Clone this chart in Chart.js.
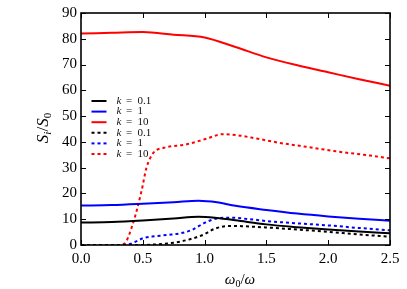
<!DOCTYPE html>
<html>
<head>
<meta charset="utf-8">
<script src="https://cdn.jsdelivr.net/npm/chart.js@4/dist/chart.umd.min.js"></script>
<style>
html,body{margin:0;padding:0;background:#fff;}
#wrap{width:407px;height:289px;}
</style>
</head>
<body>
<div id="wrap"><canvas id="c" width="407" height="289"></canvas></div>
<script>
// ---- data ----
const xTickLabels = ['0.0','0.5','1.0','1.5','2.0','2.5'];
const yTickLabels = ['0','10','20','30','40','50','60','70','80','90'];

const seriesLabels = ['k = 0.1','k = 1','k = 10','k = 0.1','k = 1','k = 10'];

const redSolidX = [0, 0.25, 0.5, 0.75, 1.0, 1.25, 1.5, 1.75, 2.0, 2.25, 2.5];
const redSolidY = [82, 82.3, 82.6, 81.6, 80.5, 76.8, 72.8, 69.7, 67, 64.3, 61.8];

const blueSolidX = [0, 0.25, 0.5, 0.75, 0.95, 1.1, 1.25, 1.5, 1.75, 2.0, 2.25, 2.5];
const blueSolidY = [15.3, 15.5, 16.0, 16.6, 17.2, 16.6, 15.2, 13.6, 12.2, 11.1, 10.2, 9.4];

const blackSolidX = [0, 0.25, 0.5, 0.75, 0.95, 1.1, 1.25, 1.5, 1.75, 2.0, 2.25, 2.5];
const blackSolidY = [8.7, 8.9, 9.5, 10.3, 11.0, 10.5, 9.6, 8.0, 6.9, 6.0, 5.2, 4.6];

const blueDotX = [0, 0.3, 0.38, 0.45, 0.5, 0.6, 0.7, 0.8, 0.9, 1.0, 1.1, 1.2, 1.35, 1.5, 1.75, 2.0, 2.25, 2.5];
const blueDotY = [0, 0, 0.2, 1.5, 2.6, 3.4, 3.9, 4.5, 5.9, 8.6, 10.3, 10.6, 10.1, 9.3, 8.4, 7.6, 6.6, 5.7];

const blackDotX = [0, 0.5, 0.6, 0.7, 0.8, 0.9, 1.0, 1.05, 1.1, 1.2, 1.3, 1.5, 1.75, 2.0, 2.25, 2.5];
const blackDotY = [0, 0, 0.2, 0.6, 1.3, 2.5, 4.2, 5.6, 6.6, 7.4, 7.3, 6.8, 6.0, 5.1, 4.1, 3.2];

const redDotX = [0, 0.3, 0.35, 0.42, 0.49, 0.53, 0.585, 0.67, 0.85, 1.0, 1.15, 1.26, 1.42, 1.61, 1.85, 2.1, 2.34, 2.5];
const redDotY = [0, 0, 0.5, 8.3, 21, 30, 35.7, 37.7, 39, 41, 43, 42.6, 41.3, 39.6, 37.9, 36.1, 34.7, 33.6];

// ---- build ----
const pts = (xs, ys) => xs.map((x, i) => ({x: x, y: ys[i]}));
const SERIF = '"Liberation Serif", "DejaVu Serif", serif';

function ds(label, xs, ys, color, dotted) {
  return {
    label: label,
    data: pts(xs, ys),
    borderColor: color,
    backgroundColor: color,
    borderWidth: 2,
    borderDash: dotted ? [3, 3] : [],
    pointRadius: 0,
    fill: false,
    cubicInterpolationMode: 'monotone',
    tension: 0.4
  };
}

const datasets = [
  ds(seriesLabels[0], blackSolidX, blackSolidY, '#000000', false),
  ds(seriesLabels[1], blueSolidX, blueSolidY, '#0000ff', false),
  ds(seriesLabels[2], redSolidX, redSolidY, '#ff0000', false),
  ds(seriesLabels[3], blackDotX, blackDotY, '#000000', true),
  ds(seriesLabels[4], blueDotX, blueDotY, '#0000ff', true),
  ds(seriesLabels[5], redDotX, redDotY, '#ff0000', true)
];

const decorPlugin = {
  id: 'decor',
  afterDraw(chart) {
    const ctx = chart.ctx;
    const a = chart.chartArea;
    const xs = chart.scales.x, ys = chart.scales.y;
    ctx.save();
    // inward ticks on all four sides
    ctx.strokeStyle = '#000';
    ctx.lineWidth = 1;
    const L = 5;
    xs.ticks.forEach(t => {
      const px = Math.round(xs.getPixelForValue(t.value)) + 0.5;
      ctx.beginPath();
      ctx.moveTo(px, a.bottom); ctx.lineTo(px, a.bottom - L);
      ctx.moveTo(px, a.top); ctx.lineTo(px, a.top + L);
      ctx.stroke();
    });
    ys.ticks.forEach(t => {
      const py = Math.round(ys.getPixelForValue(t.value)) + 0.5;
      ctx.beginPath();
      ctx.moveTo(a.left, py); ctx.lineTo(a.left + L, py);
      ctx.moveTo(a.right, py); ctx.lineTo(a.right - L, py);
      ctx.stroke();
    });
    // frame
    ctx.lineWidth = 1.6;
    ctx.strokeRect(a.left, a.top, a.right - a.left, a.bottom - a.top);

    // legend
    const lx0 = 91.5, lx1 = 106.5, tx = 116.5;
    const rowY = [101, 111.6, 122.2, 132.8, 143.4, 154];
    chart.data.datasets.forEach((d, i) => {
      const y = rowY[i];
      ctx.save();
      ctx.strokeStyle = d.borderColor;
      ctx.lineWidth = 2;
      ctx.setLineDash(d.borderDash || []);
      ctx.beginPath();
      ctx.moveTo(lx0, y); ctx.lineTo(lx1, y);
      ctx.stroke();
      ctx.restore();
      const parts = d.label.split(' = ');
      ctx.fillStyle = '#111';
      ctx.textBaseline = 'middle';
      ctx.textAlign = 'left';
      ctx.font = 'italic 11px ' + SERIF;
      ctx.fillText(parts[0], tx, y);
      ctx.font = '11px ' + SERIF;
      ctx.fillText('=', tx + 9.5, y);
      ctx.fillText(parts[1], tx + 21, y);
    });

    // axis titles with subscripts
    ctx.fillStyle = '#000';
    ctx.textBaseline = 'alphabetic';
    ctx.textAlign = 'left';
    function drawParts(parts, cx, cy) {
      let w = 0;
      parts.forEach(p => { ctx.font = p.f; p.w = ctx.measureText(p.t).width; w += p.w; });
      let x = cx - w / 2;
      parts.forEach(p => { ctx.font = p.f; ctx.fillText(p.t, x, cy + (p.dy || 0)); x += p.w; });
    }
    // x title: ω0/ω
    drawParts([
      {t: 'ω', f: 'italic 15px ' + SERIF},
      {t: '0', f: '10px ' + SERIF, dy: 3},
      {t: '/', f: '15px ' + SERIF},
      {t: 'ω', f: 'italic 15px ' + SERIF}
    ], 240, 284);
    // y title: Si/S0 rotated
    ctx.save();
    ctx.translate(42, 128);
    ctx.rotate(-Math.PI / 2);
    drawParts([
      {t: 'S', f: 'italic 17px ' + SERIF},
      {t: 'i', f: 'italic 11px ' + SERIF, dy: 3},
      {t: '/', f: '17px ' + SERIF},
      {t: 'S', f: 'italic 17px ' + SERIF},
      {t: '0', f: '11px ' + SERIF, dy: 3}
    ], 0, 6);
    ctx.restore();
    ctx.restore();
  }
};

new Chart(document.getElementById('c'), {
  type: 'line',
  data: { datasets: datasets },
  options: {
    responsive: false,
    animation: false,
    layout: { padding: { left: 0, right: 17, top: 11, bottom: 0 } },
    plugins: { legend: { display: false }, tooltip: { enabled: false } },
    scales: {
      x: {
        type: 'linear',
        min: 0, max: 2.5,
        afterFit(s) { s.height = 44; },
        grid: { drawOnChartArea: false, drawTicks: false },
        border: { display: false },
        ticks: {
          stepSize: 0.5,
          padding: 5,
          color: '#000',
          font: { family: SERIF, size: 15 },
          callback: (v, i) => xTickLabels[i]
        }
      },
      y: {
        type: 'linear',
        min: 0, max: 90,
        afterFit(s) { s.width = 81; },
        grid: { drawOnChartArea: false, drawTicks: false },
        border: { display: false },
        ticks: {
          stepSize: 10,
          padding: 4,
          color: '#000',
          font: { family: SERIF, size: 15 },
          callback: (v, i) => yTickLabels[i]
        }
      }
    }
  },
  plugins: [decorPlugin]
});
</script>
</body>
</html>
